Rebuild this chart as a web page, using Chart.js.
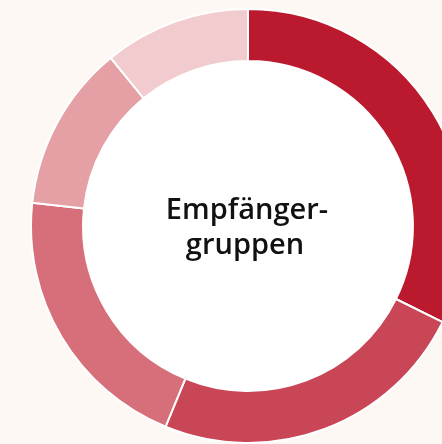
<!DOCTYPE html>
<html>
<head>
<meta charset="utf-8">
<script src="https://cdn.jsdelivr.net/npm/chart.js@4"></script>
<style>
    html, body { margin: 0; padding: 0; background: #fdf8f4; overflow: hidden; width: 442px; height: 444px; }
    #wrap { position: absolute; left: 30px; top: 7.5px; width: 436px; height: 436px; }
</style>
</head>
<body>
<div id="wrap"><canvas id="groupsChart"></canvas></div>
<script>
const labels = ['Gruppe 1', 'Gruppe 2', 'Gruppe 3', 'Gruppe 4', 'Gruppe 5'];
const shares = [32.3, 23.9, 20.5, 12.4, 10.9];
const colors = ['#bb1a2e', '#c84655', '#d66f7a', '#e4a0a5', '#f1cbcd'];
const centerLines = ['Empfänger-', 'gruppen'];

// white disc + title in the hole
const centerText = {
    id: 'centerText',
    beforeDatasetsDraw(chart) {
        const arc = chart.getDatasetMeta(0).data[0];
        if (!arc) return;
        const c = chart.ctx;
        c.save();
        c.beginPath();
        c.arc(arc.x, arc.y, arc.innerRadius, 0, Math.PI * 2);
        c.fillStyle = '#ffffff';
        c.fill();
        c.restore();
    },
    afterDraw(chart) {
        const arc = chart.getDatasetMeta(0).data[0];
        if (!arc) return;
        const c = chart.ctx;
        c.save();
        c.fillStyle = '#111111';
        c.font = '600 29px "Open Sans"';
        c.textAlign = 'center';
        c.textBaseline = 'alphabetic';
        c.fillText(centerLines[0], arc.x - 1, arc.y - 7);
        c.fillText(centerLines[1], arc.x - 3, arc.y + 28);
        c.restore();
    }
};

new Chart(document.getElementById('groupsChart').getContext('2d'), {
    type: 'doughnut',
    data: {
        labels: labels,
        datasets: [{
            data: shares,
            backgroundColor: colors,
            borderColor: '#ffffff',
            borderWidth: 2,
        }]
    },
    options: {
        responsive: true,
        maintainAspectRatio: false,
        animation: false,
        cutout: '76%',
        plugins: {
            legend: { display: false },
            tooltip: { enabled: false }
        }
    },
    plugins: [centerText]
});
</script>
</body>
</html>
